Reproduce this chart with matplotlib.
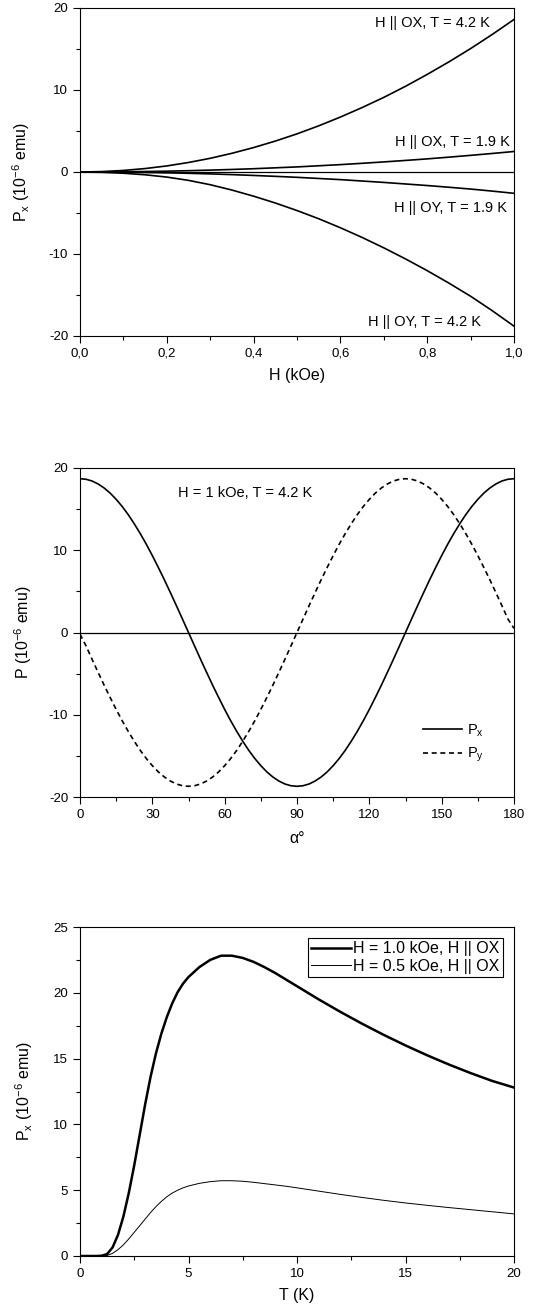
import matplotlib
matplotlib.use("Agg")
import matplotlib.pyplot as plt
from matplotlib.ticker import MultipleLocator, FuncFormatter

plt.rcParams['font.family'] = ['Liberation Sans', 'DejaVu Sans']
plt.rcParams['mathtext.fontset'] = 'custom'
plt.rcParams['mathtext.rm'] = 'Liberation Sans'
plt.rcParams['mathtext.it'] = 'Liberation Sans:italic'
plt.rcParams['axes.unicode_minus'] = False

# panel 1: Px vs H
H = [0.0, 0.05, 0.1, 0.15, 0.2, 0.25, 0.3, 0.35, 0.4, 0.45, 0.5,
     0.55, 0.6, 0.65, 0.7, 0.75, 0.8, 0.85, 0.9, 0.95, 1.0]
px_ox_42 = [0, 0.05, 0.19, 0.42, 0.74, 1.16, 1.67, 2.28, 2.98, 3.77, 4.65,
            5.63, 6.7, 7.86, 9.1, 10.45, 11.9, 13.43, 15.05, 16.78, 18.6]
px_ox_19 = [0, 0.01, 0.03, 0.06, 0.1, 0.16, 0.23, 0.31, 0.4, 0.51, 0.62,
            0.76, 0.9, 1.06, 1.23, 1.41, 1.6, 1.81, 2.03, 2.26, 2.5]
px_oy_19 = [0, -0.01, -0.03, -0.06, -0.1, -0.16, -0.23, -0.32, -0.42, -0.53, -0.65,
            -0.79, -0.93, -1.1, -1.27, -1.46, -1.65, -1.86, -2.08, -2.33, -2.6]
px_oy_42 = [0, -0.04, -0.15, -0.34, -0.62, -1.02, -1.55, -2.2, -2.95, -3.78, -4.7,
            -5.7, -6.8, -7.98, -9.25, -10.6, -12.03, -13.55, -15.15, -16.92, -18.8]

# panel 2: P vs angle (2.5 deg steps)
alpha = [i * 2.5 for i in range(73)]
p_x = [18.7, 18.63, 18.42, 18.06, 17.57, 16.95, 16.19, 15.32, 14.33, 13.22,
       12.02, 10.73, 9.35, 7.90, 6.40, 4.84, 3.25, 1.63, 0.0,
       -1.63, -3.25, -4.84, -6.40, -7.90, -9.35, -10.73, -12.02, -13.22,
       -14.33, -15.32, -16.19, -16.95, -17.57, -18.06, -18.42, -18.63, -18.7,
       -18.63, -18.42, -18.06, -17.57, -16.95, -16.19, -15.32, -14.33, -13.22,
       -12.02, -10.73, -9.35, -7.90, -6.40, -4.84, -3.25, -1.63, 0.0,
       1.63, 3.25, 4.84, 6.40, 7.90, 9.35, 10.73, 12.02, 13.22, 14.33,
       15.32, 16.19, 16.95, 17.57, 18.06, 18.42, 18.63, 18.7]
p_y = [-0.2, -1.63, -3.25, -4.84, -6.40, -7.90, -9.35, -10.73, -12.02, -13.22,
       -14.33, -15.32, -16.19, -16.95, -17.57, -18.06, -18.42, -18.63, -18.7,
       -18.63, -18.42, -18.06, -17.57, -16.95, -16.19, -15.32, -14.33, -13.22,
       -12.02, -10.73, -9.35, -7.90, -6.40, -4.84, -3.25, -1.63, 0.0,
       1.63, 3.25, 4.84, 6.40, 7.90, 9.35, 10.73, 12.02, 13.22, 14.33,
       15.32, 16.19, 16.95, 17.57, 18.06, 18.42, 18.63, 18.7,
       18.63, 18.42, 18.06, 17.57, 16.95, 16.19, 15.32, 14.33, 13.22,
       12.02, 10.73, 9.35, 7.90, 6.40, 4.84, 3.25, 1.63, 0.5]

# panel 3: Px vs T
T = [0, 0.5, 0.75, 1.0, 1.25, 1.5, 1.75, 2.0, 2.25, 2.5, 2.75, 3.0, 3.25, 3.5,
     3.75, 4.0, 4.25, 4.5, 4.75, 5.0, 5.5, 6.0, 6.5, 7.0, 7.5, 8.0, 8.5, 9.0,
     9.5, 10, 11, 12, 13, 14, 15, 16, 17, 18, 19, 20]
px_h10 = [0, 0, 0, 0.02, 0.15, 0.65, 1.6, 3.0, 4.8, 6.9, 9.2, 11.5, 13.6, 15.4,
          16.9, 18.15, 19.2, 20.05, 20.7, 21.2, 21.95, 22.5, 22.82, 22.82, 22.65,
          22.35, 21.95, 21.5, 21.0, 20.5, 19.5, 18.55, 17.65, 16.8, 16.0, 15.25,
          14.55, 13.9, 13.3, 12.8]
px_h05 = [0, 0, 0, 0, 0.04, 0.2, 0.48, 0.85, 1.3, 1.8, 2.3, 2.8, 3.3, 3.75,
          4.15, 4.5, 4.78, 5.0, 5.18, 5.32, 5.52, 5.65, 5.72, 5.72, 5.68, 5.6,
          5.5, 5.4, 5.3, 5.18, 4.93, 4.68, 4.45, 4.23, 4.03, 3.85, 3.68, 3.52,
          3.36, 3.2]

W, Hpx = 535, 1312
fig = plt.figure(figsize=(W / 100, Hpx / 100), dpi=100)


def make_axes(top, bottom):
    ax = fig.add_axes([80 / W, (Hpx - bottom) / Hpx, 434 / W, (bottom - top) / Hpx])
    for s in ax.spines.values():
        s.set_linewidth(0.8)
    ax.tick_params(which='both', direction='out', top=False, right=False,
                   labelsize=9.5, width=0.8)
    ax.tick_params(which='major', length=5)
    ax.tick_params(which='minor', length=3)
    return ax


ylab_x = 'P$\\mathregular{_x}$ (10$\\mathregular{^{-6}}$ emu)'

# ---- panel 1
ax1 = make_axes(8, 336)
ax1.axhline(0, color='black', lw=0.9)
for y in (px_ox_42, px_ox_19, px_oy_19, px_oy_42):
    ax1.plot(H, y, color='black', lw=1.2)
ax1.set_xlim(0, 1)
ax1.set_ylim(-20, 20)
ax1.xaxis.set_major_locator(MultipleLocator(0.2))
ax1.xaxis.set_minor_locator(MultipleLocator(0.1))
ax1.yaxis.set_major_locator(MultipleLocator(10))
ax1.yaxis.set_minor_locator(MultipleLocator(5))
ax1.xaxis.set_major_formatter(FuncFormatter(lambda v, p: f"{v:.1f}".replace('.', ',')))
ax1.set_xlabel('H (kOe)', fontsize=11.5, labelpad=6)
ax1.set_ylabel(ylab_x, fontsize=11.5)
ax1.yaxis.set_label_coords(-0.11, 0.5)
ax1.text(0.945, 18.2, 'H || OX, T = 4.2 K', ha='right', va='center', fontsize=10.5)
ax1.text(0.99, 3.7, 'H || OX, T = 1.9 K', ha='right', va='center', fontsize=10.5)
ax1.text(0.985, -4.4, 'H || OY, T = 1.9 K', ha='right', va='center', fontsize=10.5)
ax1.text(0.925, -18.3, 'H || OY, T = 4.2 K', ha='right', va='center', fontsize=10.5)

# ---- panel 2
ax2 = make_axes(468, 797)
ax2.axhline(0, color='black', lw=0.9)
ax2.plot(alpha, p_x, color='black', lw=1.2, label='P$\\mathregular{_x}$')
ax2.plot(alpha, p_y, color='black', lw=1.2, ls=(0, (3, 2.2)), label='P$\\mathregular{_y}$')
ax2.set_xlim(0, 180)
ax2.set_ylim(-20, 20)
ax2.xaxis.set_major_locator(MultipleLocator(30))
ax2.xaxis.set_minor_locator(MultipleLocator(15))
ax2.yaxis.set_major_locator(MultipleLocator(10))
ax2.yaxis.set_minor_locator(MultipleLocator(5))
ax2.set_xlabel('α°', fontsize=11.5, labelpad=7)
ax2.set_ylabel('P (10$\\mathregular{^{-6}}$ emu)', fontsize=11.5)
ax2.yaxis.set_label_coords(-0.107, 0.5)
ax2.text(40.6, 17.0, 'H = 1 kOe, T = 4.2 K', ha='left', va='center', fontsize=10.5)
ax2.legend(loc='lower right', bbox_to_anchor=(0.96, 0.06), frameon=False,
           fontsize=10.5, handlelength=2.7, handletextpad=0.3, labelspacing=0.5)

# ---- panel 3
ax3 = make_axes(927, 1256)
ax3.plot(T, px_h10, color='black', lw=1.8, label='H = 1.0 kOe, H || OX')
ax3.plot(T, px_h05, color='black', lw=0.7, label='H = 0.5 kOe, H || OX')
ax3.set_xlim(0, 20)
ax3.set_ylim(0, 25)
ax3.xaxis.set_major_locator(MultipleLocator(5))
ax3.xaxis.set_minor_locator(MultipleLocator(2.5))
ax3.yaxis.set_major_locator(MultipleLocator(5))
ax3.yaxis.set_minor_locator(MultipleLocator(2.5))
ax3.set_xlabel('T (K)', fontsize=11.5, labelpad=6)
ax3.set_ylabel(ylab_x, fontsize=11.5)
ax3.yaxis.set_label_coords(-0.103, 0.5)
leg = ax3.legend(loc='upper right', fontsize=11.5, fancybox=False, framealpha=1,
                 edgecolor='black', handlelength=2.5, handletextpad=0.15,
                 borderaxespad=0.7, borderpad=0.2, labelspacing=0.15)
leg.get_frame().set_linewidth(0.8)

fig.savefig('out.png', dpi=100)
